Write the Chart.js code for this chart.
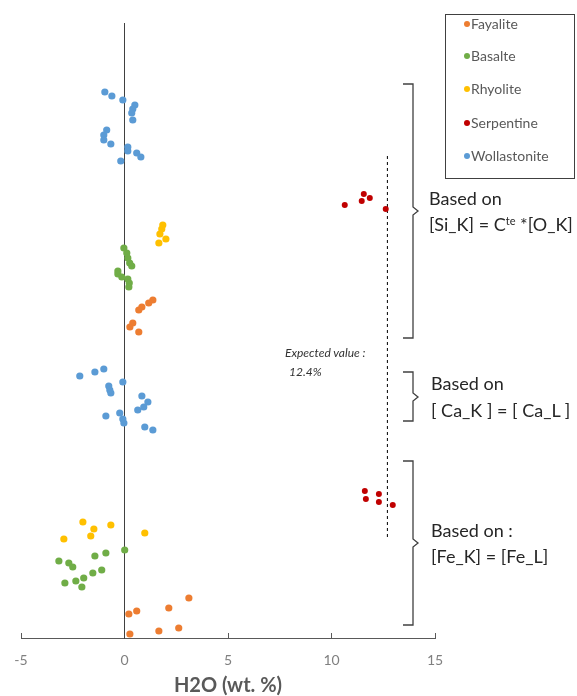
<!DOCTYPE html>
<html><head><meta charset="utf-8">
<script src="https://cdn.jsdelivr.net/npm/chart.js@4"></script>
<style>
html,body{margin:0;padding:0;background:#fff;}
#wrap{position:relative;width:577px;height:696px;overflow:hidden;font-family:Lato,"Open Sans",sans-serif;}
#c{position:absolute;left:0;top:0;}
.note{position:absolute;color:#262626;font-size:18px;white-space:nowrap;line-height:20px;}
.note sup{font-size:11px;vertical-align:6px;line-height:0;}
.exp{position:absolute;color:#333;font-size:12px;font-style:italic;white-space:nowrap;line-height:14px;}
#legend{position:absolute;left:445px;top:14px;width:130px;height:165px;box-sizing:border-box;border:1px solid #404040;background:#fff;}
.li{position:absolute;left:0;height:16px;line-height:16px;font-size:14px;color:#595959;white-space:nowrap;}
.li i{position:absolute;left:18px;top:5px;width:6px;height:6px;border-radius:50%;}
.li span{position:absolute;left:25px;top:0;}
svg{position:absolute;left:0;top:0;}
</style></head>
<body><div id="wrap">
<canvas id="c" width="577" height="696"></canvas>
<svg width="577" height="696">
 <g fill="none" stroke="#404040" stroke-width="1.3">
  <path d="M403 84 L413 84 L413 207 L418 211 L413 215 L413 338 L403 338"/>
  <path d="M403 372 L413 372 L413 393 L418 397 L413 401 L413 421 L403 421"/>
  <path d="M403 461 L413 461 L413 539 L418 543 L413 547 L413 625 L403 625"/>
 </g>
</svg>
<div class="note" style="left:429px;top:188px">Based on</div>
<div class="note" style="left:429px;top:214px">[Si_K] = C<sup>te</sup> *[O_K]</div>
<div class="note" style="left:431px;top:373px">Based on</div>
<div class="note" style="left:431px;top:400px">[ Ca_K ] = [ Ca_L ]</div>
<div class="note" style="left:431px;top:520px">Based on :</div>
<div class="note" style="left:431px;top:546px">[Fe_K] = [Fe_L]</div>
<div class="exp" style="left:285px;top:346px">Expected value :</div>
<div class="exp" style="left:289px;top:365px">12.4%</div>
<div id="legend"></div>
</div>
<script>
// Series names
const seriesNames = ['Fayalite','Basalte','Rhyolite','Serpentine','Wollastonite'];
const seriesColors = ['#ED7D31','#70AD47','#FFC000','#C00000','#5B9BD5'];

// H2O (wt. %) values (x) and vertical placement (y) per series
const fayaliteX = [1.37,1.17,0.84,0.69,0.40,0.26,0.69, 3.11,2.14,0.59,0.21,2.62,1.66,0.26];
const fayaliteY = [33.8,33.5,33.1,32.8,31.5,31.1,30.6, 4.0,3.0,2.7,2.4,1.0,0.7,0.4];
const basalteX = [-0.03,0.11,0.16,0.25,0.35,-0.32,-0.32,-0.13,0.16,0.23,0.21, 0.01,-0.90,-1.43,-3.17,-2.69,-2.50,-1.10,-1.53,-1.97,-2.35,-2.88,-2.06];
const basalteY = [39.0,38.5,38.0,37.5,37.2,36.7,36.4,36.1,35.9,35.5,35.1, 8.8,8.5,8.2,7.7,7.5,7.1,6.8,6.5,6.0,5.7,5.5,5.1];
const rhyoliteX = [1.85,1.80,1.71,1.66,2.00, -2.01,-1.48,-1.63,-0.66,-2.93,0.98];
const rhyoliteY = [41.3,40.9,40.4,39.5,39.9, 11.6,10.9,10.2,11.3,9.9,10.5];
const serpentineX = [11.56,11.85,11.46,10.64,12.62, 11.61,11.66,12.29,12.29,12.96];
const serpentineY = [44.4,44.0,43.7,43.3,42.9, 14.7,13.9,14.4,13.6,13.3];
const wollastoniteX = [-0.95,-0.61,-0.08,0.50,0.40,0.35,0.40,-0.86,-1.00,-1.00,-0.66,0.16,0.16,0.59,0.79,-0.18, -2.16,-1.43,-1.00,-0.76,-0.71,-0.66,-0.08,0.84,1.13,0.93,0.64,-0.90,-0.23,-0.08,-0.03,0.98,1.37];
const wollastoniteY = [54.6,54.2,53.8,53.3,52.9,52.5,51.8,50.8,50.3,49.8,49.4,49.1,48.7,48.5,48.1,47.7, 26.2,26.6,26.9,25.2,24.8,24.5,25.6,24.2,23.6,23.1,22.8,22.2,22.5,21.9,21.5,21.1,20.8];

// Expected value marker line
const expectedX = [12.70, 12.70];
const expectedY = [10.1, 48.5];

// Axis ticks
const xTicks = [-5, 0, 5, 10, 15];

const zip = (xs, ys) => xs.map((x, i) => ({x, y: ys[i]}));
const seriesX = [fayaliteX, basalteX, rhyoliteX, serpentineX, wollastoniteX];
const seriesY = [fayaliteY, basalteY, rhyoliteY, serpentineY, wollastoniteY];

const datasets = seriesNames.map((name, i) => ({
  type: 'scatter',
  label: name,
  data: zip(seriesX[i], seriesY[i]),
  backgroundColor: seriesColors[i],
  borderColor: seriesColors[i],
  borderWidth: 0,
  pointRadius: name === 'Serpentine' ? 3 : 3.6,
  pointHoverRadius: 3.6
}));
datasets.push({
  type: 'line',
  label: 'Expected value',
  data: zip(expectedX, expectedY),
  borderColor: '#000',
  borderWidth: 1,
  borderDash: [3, 3],
  pointRadius: 0,
  fill: false
});

new Chart(document.getElementById('c'), {
  type: 'scatter',
  data: {datasets},
  options: {
    responsive: false,
    animation: false,
    devicePixelRatio: 1,
    layout: {padding: {left: 21, right: 142, top: 23, bottom: 0}},
    plugins: {legend: {display: false}, tooltip: {enabled: false}},
    scales: {
      x: {
        type: 'linear', min: xTicks[0], max: xTicks[xTicks.length - 1],
        afterBuildTicks: s => { s.ticks = xTicks.map(v => ({value: v})); },
        grid: {drawOnChartArea: false, drawTicks: true, tickLength: -5, color: '#595959', lineWidth: 1},
        border: {display: true, color: '#595959', width: 1},
        ticks: {color: '#808080', font: {family: 'Lato', size: 14, lineHeight: '54px'}, padding: 0, maxRotation: 0},
        title: {display: true, text: 'H2O (wt. %)', color: '#595959', font: {family: 'Lato', size: 20, weight: 'bold'}, padding: {top: -13, bottom: -2}}
      },
      y: {
        type: 'linear', min: 0, max: 61.5,
        position: {x: 0},
        ticks: {display: false},
        grid: {display: false},
        border: {display: true, color: '#404040', width: 1}
      }
    }
  }
});

const legend = document.getElementById('legend');
const rowCenters = [9, 41, 74, 108, 141];
seriesNames.forEach((n, i) => {
  const d = document.createElement('div');
  d.className = 'li';
  d.style.top = (rowCenters[i] - 8) + 'px';
  d.innerHTML = '<i style="background:' + seriesColors[i] + '"></i><span>' + n + '</span>';
  legend.appendChild(d);
});
</script>
</body></html>
